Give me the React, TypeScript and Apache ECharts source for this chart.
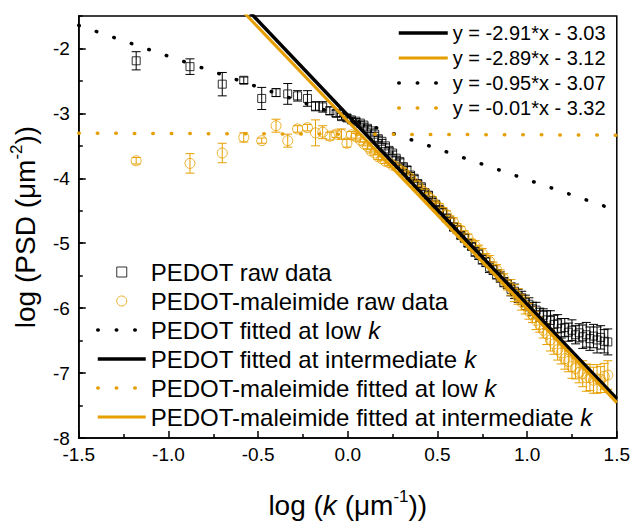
import React, { useEffect, useRef } from 'react';
import * as echarts from 'echarts';

// log(k) positions shared by both samples
const logK = [
  -1.18, -0.88, -0.70, -0.58, -0.48, -0.40, -0.335, -0.28, -0.225, -0.18, -0.14, -0.10, -0.065, -0.035, -0.005, 0.02, 0.045,
  0.07, 0.09, 0.11, 0.13, 0.15, 0.17, 0.19, 0.21, 0.23, 0.25, 0.27, 0.29, 0.31, 0.33, 0.35, 0.37, 0.39, 0.41, 0.43, 0.45,
  0.47, 0.49, 0.51, 0.53, 0.55, 0.57, 0.59, 0.61, 0.63, 0.65, 0.67, 0.69, 0.71, 0.73, 0.75, 0.77, 0.79, 0.81, 0.83, 0.85,
  0.87, 0.89, 0.91, 0.93, 0.95, 0.97, 0.99, 1.01, 1.03, 1.05, 1.07, 1.09, 1.11, 1.13, 1.15, 1.17, 1.19, 1.21, 1.23, 1.25,
  1.27, 1.29, 1.31, 1.33, 1.35, 1.37, 1.39, 1.41, 1.43, 1.45,
];

const pedotPSD = [
  -2.19, -2.28, -2.55, -2.49, -2.77, -2.68, -2.70, -2.73, -2.77, -2.89, -2.90, -2.96, -3.00, -3.05, -3.07, -3.10, -3.12,
  -3.15, -3.18, -3.23, -3.27, -3.32, -3.39, -3.43, -3.50, -3.57, -3.61, -3.69, -3.74, -3.82, -3.87, -3.95, -4.00, -4.08, -4.13, -4.22, -4.26,
  -4.35, -4.40, -4.48, -4.53, -4.61, -4.66, -4.75, -4.79, -4.88, -4.92, -5.00, -5.05, -5.13, -5.17, -5.25, -5.29, -5.37, -5.41, -5.48, -5.52,
  -5.60, -5.63, -5.71, -5.74, -5.81, -5.84, -5.91, -5.94, -6.01, -6.03, -6.10, -6.11, -6.18, -6.19, -6.25, -6.24, -6.31, -6.30, -6.37, -6.34,
  -6.41, -6.38, -6.44, -6.41, -6.47, -6.43, -6.49, -6.45, -6.51, -6.52,
];

const pedotErr = [
  0.14, 0.12, 0.18, 0.05, 0.17, 0.06, 0.16, 0.08, 0.12, 0.07, 0.08, 0.06, 0.05, 0.05, 0.05, 0.04, 0.04,
  0.03, 0.03, 0.04, 0.03, 0.03, 0.04, 0.03, 0.03, 0.04, 0.03, 0.03, 0.04, 0.04, 0.05, 0.04, 0.04, 0.05, 0.04, 0.04, 0.05,
  0.04, 0.04, 0.05, 0.06, 0.05, 0.05, 0.06, 0.05, 0.05, 0.06, 0.05, 0.05, 0.07, 0.08, 0.07, 0.07, 0.08, 0.07, 0.07, 0.08,
  0.07, 0.07, 0.10, 0.11, 0.10, 0.10, 0.11, 0.10, 0.10, 0.12, 0.10, 0.10, 0.14, 0.15, 0.14, 0.14, 0.15, 0.14, 0.14, 0.16,
  0.14, 0.14, 0.18, 0.19, 0.18, 0.18, 0.20, 0.18, 0.18, 0.20,
];

const maleimidePSD = [
  -3.73, -3.77, -3.61, -3.37, -3.42, -3.19, -3.42, -3.24, -3.22, -3.30, -3.29, -3.35, -3.32, -3.32, -3.46, -3.33, -3.36,
  -3.41, -3.47, -3.51, -3.58, -3.61, -3.67, -3.70, -3.74, -3.76, -3.80, -3.82, -3.87, -3.90, -3.96, -4.00, -4.07, -4.11, -4.18, -4.22, -4.29,
  -4.33, -4.41, -4.45, -4.52, -4.56, -4.64, -4.68, -4.76, -4.80, -4.88, -4.92, -5.00, -5.04, -5.12, -5.16, -5.24, -5.28, -5.37, -5.41, -5.50,
  -5.55, -5.64, -5.68, -5.77, -5.82, -5.91, -5.96, -6.05, -6.10, -6.19, -6.25, -6.34, -6.40, -6.49, -6.55, -6.64, -6.69, -6.78, -6.82, -6.90,
  -6.93, -6.99, -7.01, -7.07, -7.07, -7.11, -7.09, -7.10, -7.05, -7.03,
];

const maleimideErr = [
  0.05, 0.15, 0.15, 0.07, 0.04, 0.10, 0.10, 0.05, 0.05, 0.20, 0.10, 0.06, 0.05, 0.08, 0.06, 0.05, 0.05,
  0.03, 0.03, 0.04, 0.03, 0.03, 0.04, 0.03, 0.03, 0.04, 0.03, 0.03, 0.04, 0.05, 0.06, 0.05, 0.05, 0.06, 0.05, 0.05, 0.06,
  0.05, 0.05, 0.06, 0.07, 0.06, 0.06, 0.07, 0.06, 0.06, 0.07, 0.06, 0.06, 0.08, 0.09, 0.08, 0.08, 0.09, 0.08, 0.08, 0.09,
  0.08, 0.08, 0.12, 0.13, 0.12, 0.12, 0.13, 0.12, 0.12, 0.14, 0.12, 0.12, 0.16, 0.17, 0.16, 0.16, 0.17, 0.16, 0.16, 0.18,
  0.16, 0.16, 0.20, 0.21, 0.20, 0.20, 0.22, 0.20, 0.20, 0.22,
];

// Linear fits y = slope * x + intercept
const fitNames = [
  'PEDOT fitted at low k',
  'PEDOT fitted at intermediate k',
  'PEDOT-maleimide fitted at low k',
  'PEDOT-maleimide fitted at intermediate k',
];
const fitSlopes = [-0.95, -2.91, -0.01, -2.89];
const fitIntercepts = [-3.07, -3.03, -3.32, -3.12];
const fitLineStyles = ['dotted', 'solid', 'dotted', 'solid'];
const fitColors = ['black', 'black', 'orange', 'orange'];

const rawNames = ['PEDOT raw data', 'PEDOT-maleimide raw data'];
const equationOrder = [1, 3, 0, 2];

const xRange = [-1.5, 1.5];
const yRange = [-8, -1.5];

const BLACK = '#000000';
const ORANGE = '#E69F00';
const FONT = '"Liberation Sans", Arial, Helvetica, sans-serif';

export default function App() {
  const ref = useRef<HTMLDivElement>(null);

  useEffect(() => {
    if (!ref.current) return;
    const chart = echarts.init(ref.current, null, { renderer: 'svg' });

    const colorOf = (c: string) => (c === 'black' ? BLACK : ORANGE);

    const errSeries = (ys: number[], errs: number[], color: string, halfCap: number) => ({
      type: 'custom',
      silent: true,
      z: 2,
      data: logK.map((x, i) => [x, ys[i] - errs[i], ys[i] + errs[i]]),
      encode: { x: 0, y: [1, 2] },
      renderItem: (_params: any, api: any) => {
        const x = api.value(0);
        const lo = api.coord([x, api.value(1)]);
        const hi = api.coord([x, api.value(2)]);
        const style = { stroke: color, lineWidth: 1 };
        return {
          type: 'group',
          children: [
            { type: 'line', shape: { x1: lo[0], y1: lo[1], x2: hi[0], y2: hi[1] }, style },
            { type: 'line', shape: { x1: lo[0] - halfCap, y1: lo[1], x2: lo[0] + halfCap, y2: lo[1] }, style },
            { type: 'line', shape: { x1: hi[0] - halfCap, y1: hi[1], x2: hi[0] + halfCap, y2: hi[1] }, style },
          ],
        };
      },
    });

    const fitSeries = fitNames.map((name, i) => {
      const color = colorOf(fitColors[i]);
      const dotted = fitLineStyles[i] === 'dotted';
      return {
        type: 'line',
        name,
        silent: true,
        z: 4,
        clip: true,
        symbol: 'none',
        showSymbol: false,
        color,
        data: xRange.map((x) => [x, fitSlopes[i] * x + fitIntercepts[i]]),
        lineStyle: dotted
          ? { color, width: 3.5, type: [0.5, 18], cap: 'round' }
          : { color, width: fitColors[i] === 'black' ? 3.5 : 3, type: 'solid' },
      };
    });

    const eqText = (i: number) =>
      `y = ${fitSlopes[i].toFixed(2)}*x - ${Math.abs(fitIntercepts[i]).toFixed(2)}`;
    const eqMap: Record<string, string> = {};
    fitNames.forEach((n, i) => (eqMap[n] = eqText(i)));

    const lineLegendItem = (name: string) => ({ name, itemStyle: { opacity: 0, borderWidth: 0 } });

    const axisLineStyle = { color: BLACK, width: 1.5 };
    const legendToken = { fontFamily: FONT, fontSize: 24, color: BLACK, lineHeight: 22, height: 22 };

    chart.setOption({
      animation: false,
      backgroundColor: '#ffffff',
      grid: {
        left: 76,
        right: 15,
        top: 16,
        bottom: 75,
        show: true,
        borderColor: BLACK,
        borderWidth: 1.5,
        backgroundColor: 'transparent',
      },
      xAxis: {
        type: 'value',
        min: xRange[0],
        max: xRange[1],
        interval: 0.5,
        name: 'log ({i|k} (μm{sup|-1}))',
        nameLocation: 'middle',
        nameGap: 50,
        nameTextStyle: {
          fontFamily: FONT,
          fontSize: 28,
          color: BLACK,
          lineHeight: 34,
          rich: {
            i: { fontFamily: FONT, fontSize: 28, fontStyle: 'italic', color: BLACK, lineHeight: 34 },
            sup: { fontFamily: FONT, fontSize: 17, color: BLACK, verticalAlign: 'top', lineHeight: 17 },
          },
        },
        axisLine: { onZero: false, lineStyle: axisLineStyle },
        axisTick: { inside: true, length: 7, lineStyle: axisLineStyle },
        minorTick: { show: true, splitNumber: 2, length: 4, lineStyle: { color: BLACK, width: 1.5 } },
        axisLabel: {
          formatter: (v: number) => v.toFixed(1),
          fontFamily: FONT,
          fontSize: 19,
          color: BLACK,
          margin: 7,
        },
        splitLine: { show: false },
        minorSplitLine: { show: false },
      },
      yAxis: [
        {
          type: 'value',
          min: yRange[0],
          max: yRange[1],
          interval: 1,
          position: 'left',
          name: 'log (PSD (μm{sup|-2}))',
          nameLocation: 'middle',
          nameGap: 28,
          nameTextStyle: {
            fontFamily: FONT,
            fontSize: 28,
            color: BLACK,
            lineHeight: 34,
            rich: {
              sup: { fontFamily: FONT, fontSize: 17, color: BLACK, verticalAlign: 'top', lineHeight: 17 },
            },
          },
          axisLine: { onZero: false, lineStyle: axisLineStyle },
          axisTick: { inside: true, length: 7, lineStyle: axisLineStyle },
          axisLabel: {
            showMaxLabel: false,
            fontFamily: FONT,
            fontSize: 19,
            color: BLACK,
            margin: 9,
            padding: [0, 0, 3, 0],
          },
          splitLine: { show: false },
        },
        {
          type: 'value',
          min: yRange[0],
          max: yRange[1],
          interval: 0.5,
          position: 'left',
          axisLine: { show: false, onZero: false },
          axisTick: { inside: true, length: 4, lineStyle: axisLineStyle },
          axisLabel: { show: false },
          splitLine: { show: false },
        },
      ],
      legend: [
        {
          orient: 'vertical',
          left: 96,
          top: 260,
          padding: 0,
          itemWidth: 48,
          itemHeight: 10,
          itemGap: 5,
          selectedMode: false,
          data: [
            { name: rawNames[0], icon: 'path://M0,0H10V10H0Z' },
            { name: rawNames[1] },
            lineLegendItem(fitNames[0]),
            lineLegendItem(fitNames[1]),
            lineLegendItem(fitNames[2]),
            lineLegendItem(fitNames[3]),
          ],
          formatter: (n: string) =>
            n.endsWith(' k') ? `{t|${n.slice(0, -1)}}{i|k}` : `{t|${n}}`,
          textStyle: {
            fontFamily: FONT,
            fontSize: 24,
            color: BLACK,
            lineHeight: 22,
            rich: {
              t: legendToken,
              i: { ...legendToken, fontStyle: 'italic' },
            },
          },
          itemStyle: { borderWidth: 1 },
          lineStyle: { width: 'inherit' },
        },
        {
          orient: 'vertical',
          left: 397,
          top: 23,
          padding: 0,
          itemWidth: 49,
          itemHeight: 10,
          itemGap: 5,
          selectedMode: false,
          data: equationOrder.map((i) => lineLegendItem(fitNames[i])),
          formatter: (n: string) => eqMap[n],
          textStyle: { fontFamily: FONT, fontSize: 20, color: BLACK, lineHeight: 20 },
          lineStyle: { width: 'inherit' },
        },
      ],
      series: [
        errSeries(pedotPSD, pedotErr, BLACK, 4.5),
        errSeries(maleimidePSD, maleimideErr, ORANGE, 4.5),
        {
          type: 'scatter',
          name: rawNames[0],
          silent: true,
          z: 3,
          symbol: 'rect',
          symbolSize: 8,
          data: logK.map((x, i) => [x, pedotPSD[i]]),
          itemStyle: { color: 'rgba(0,0,0,0)', borderColor: BLACK, borderWidth: 1 },
        },
        {
          type: 'scatter',
          name: rawNames[1],
          silent: true,
          z: 3,
          symbol: 'circle',
          symbolSize: 10,
          data: logK.map((x, i) => [x, maleimidePSD[i]]),
          itemStyle: { color: 'rgba(0,0,0,0)', borderColor: ORANGE, borderWidth: 1 },
        },
        ...fitSeries,
      ],
    });

    return () => chart.dispose();
  }, []);

  return (
    <div
      ref={ref}
      style={{ position: 'fixed', left: 0, top: 0, width: 633, height: 527, background: '#fff' }}
    />
  );
}
